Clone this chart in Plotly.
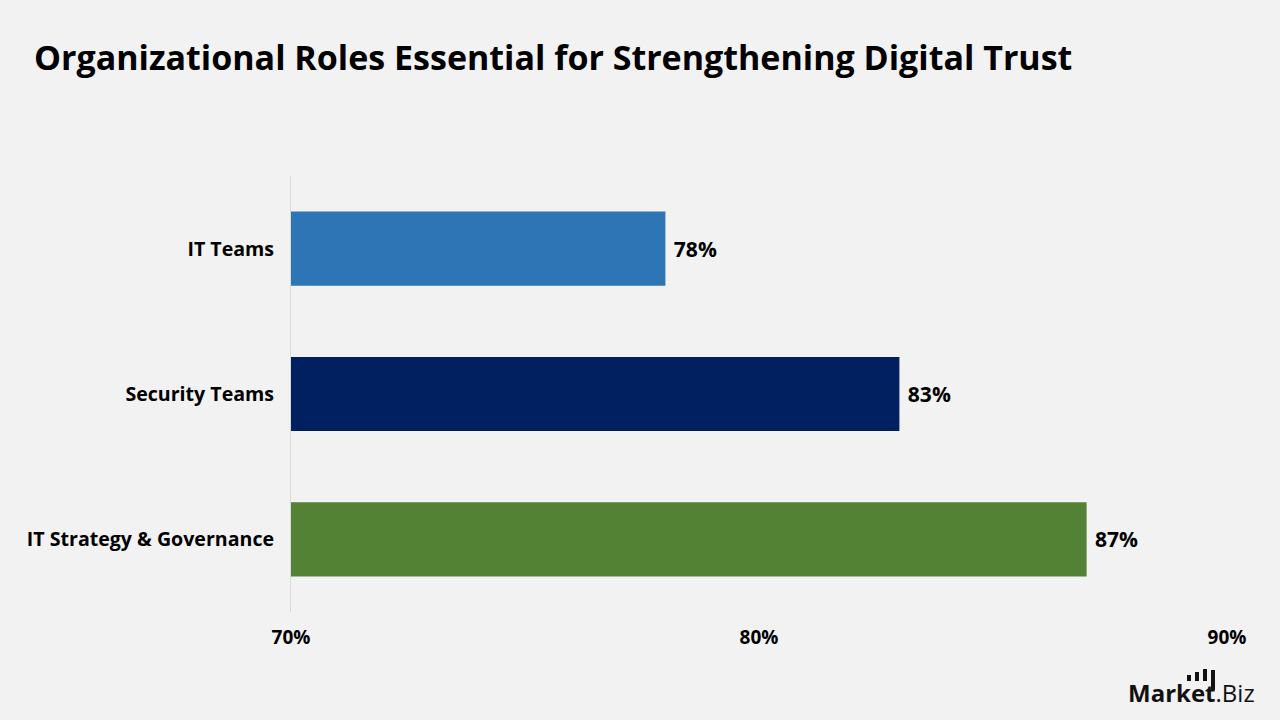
import plotly.graph_objects as go

categories = ["IT Teams", "Security Teams", "IT Strategy & Governance"]
values = [78, 83, 87]
colors = ["#2E75B6", "#002060", "#548235"]
tick_vals = [70, 80, 90]
tick_text = ["70%", "80%", "90%"]

FONT = "Open Sans"

# plot area in pixels (for decoration placement)
PL, PR, PT, PB = 291, 1227, 176, 612
def px(x):
    return (x - PL) / (PR - PL)
def py(y):
    return (PB - y) / (PB - PT)

fig = go.Figure(go.Bar(
    y=categories, x=values, orientation="h",
    marker=dict(color=colors, line=dict(width=0)),
    width=0.51,
    text=[f"\u00a0{v}%" for v in values], textposition="outside",
    textfont=dict(family=FONT, size=21, color="#000000", weight="bold"),
    cliponaxis=False,
))

fig.update_layout(
    width=1280, height=720,
    paper_bgcolor="#F2F2F2", plot_bgcolor="#F2F2F2",
    margin=dict(l=PL, r=1280 - PR, t=PT, b=720 - PB),
    showlegend=False,
    title=dict(text="<b>Organizational Roles Essential for Strengthening Digital Trust</b>",
               x=34/1280, xanchor="left", y=1-58/720, yanchor="middle",
               font=dict(family=FONT, size=34, color="#000000")),
    xaxis=dict(range=[70, 90], tickvals=tick_vals, ticktext=tick_text,
               showgrid=False, zeroline=False, showline=False, ticks="",
               ticklabelstandoff=12,
               tickfont=dict(family=FONT, size=19, color="#000000", weight="bold"),
               fixedrange=True),
    yaxis=dict(categoryorder="array", categoryarray=categories, autorange="reversed",
               showgrid=False, zeroline=False, showline=True, linecolor="#D9D9D9", linewidth=1,
               ticks="", ticklabelstandoff=12,
               tickfont=dict(family=FONT, size=19.6, color="#000000", weight="bold")),
    bargap=0.49,
)

# logo
fig.add_annotation(text="<b>Market</b>.Biz", x=px(1257), y=py(692), xref="paper", yref="paper",
                   xanchor="right", yanchor="middle", showarrow=False,
                   font=dict(family=FONT, size=24, color="#111111"))
for hx, ht in [(1187, 6), (1195, 9), (1203, 12)]:
    fig.add_shape(type="rect", xref="paper", yref="paper",
                  x0=px(hx), x1=px(hx + 4), y0=py(681), y1=py(681 - ht),
                  fillcolor="#111111", line=dict(width=0))
fig.add_shape(type="rect", xref="paper", yref="paper",
              x0=px(1211), x1=px(1215), y0=py(690), y1=py(670),
              fillcolor="#111111", line=dict(width=0))

fig.write_html("out.html")
